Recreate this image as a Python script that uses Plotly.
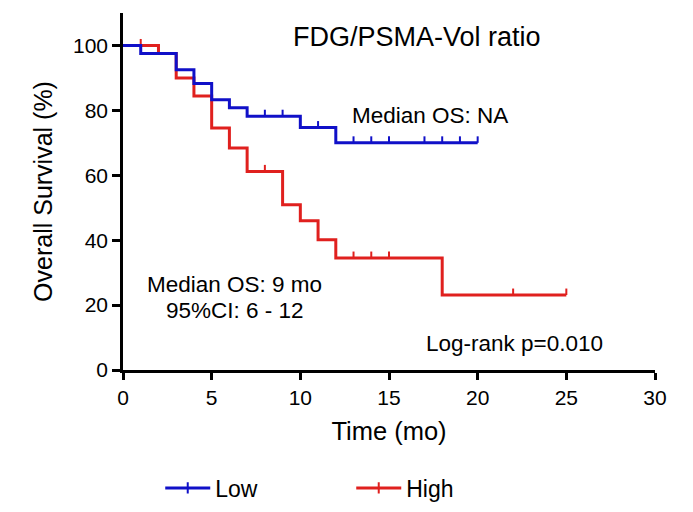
import plotly.graph_objects as go

# Low group (blue)
low_t = [0, 1, 3, 4, 5, 6, 7, 10, 12, 20]
low_s = [100, 97.5, 92.5, 88.3, 83.3, 80.8, 78.2, 74.7, 70.0, 70.0]
low_cens_t = [8, 9, 11, 13, 14, 15, 17, 18, 19, 20]
low_cens_s = [78.2, 78.2, 74.7, 70.0, 70.0, 70.0, 70.0, 70.0, 70.0, 70.0]

# High group (red)
high_t = [0, 2, 3, 4, 5, 6, 7, 9, 10, 11, 12, 18, 25]
high_s = [100, 97.5, 90.0, 84.4, 74.6, 68.4, 61.2, 50.9, 46.0, 40.1, 34.5, 23.1, 23.1]
high_cens_t = [1, 8, 13, 14, 15, 22, 25]
high_cens_s = [100, 61.2, 34.5, 34.5, 34.5, 23.1, 23.1]

BLUE = "#1010C8"
RED = "#E0201E"
FONT = "Liberation Sans, Arial, sans-serif"

fig = go.Figure()

def add_group(t, s, ct, cs, color):
    fig.add_trace(go.Scatter(x=t, y=s, mode="lines", line=dict(color=color, width=3, shape="hv"),
                             showlegend=False, hoverinfo="skip"))
    fig.add_trace(go.Scatter(x=ct, y=cs, mode="markers", marker=dict(size=0.1, color=color, opacity=0),
                             error_y=dict(type="data", symmetric=False, array=[2.0] * len(ct),
                                          arrayminus=[0] * len(ct), color=color, thickness=2, width=0),
                             showlegend=False, hoverinfo="skip"))

add_group(high_t, high_s, high_cens_t, high_cens_s, RED)
add_group(low_t, low_s, low_cens_t, low_cens_s, BLUE)

for name, color in [("Low", BLUE), ("High", RED)]:
    fig.add_trace(go.Scatter(x=[None], y=[None], mode="lines+markers", name=name,
                             line=dict(color=color, width=3),
                             marker=dict(symbol="line-ns", size=8, color=color,
                                         line=dict(color=color, width=2))))

def ann(x, y, text, size):
    fig.add_annotation(x=x, y=y, text=text, showarrow=False,
                       font=dict(size=size, family=FONT, color="black"),
                       xanchor="center", yanchor="middle")

ann(16.6, 102.5, "FDG/PSMA-Vol ratio", 27)
ann(17.3, 78.4, "Median OS: NA", 22.5)
ann(6.26, 26.2, "Median OS: 9 mo", 22.5)
ann(6.29, 18.2, "95%CI: 6 - 12", 22.5)
ann(22.05, 8.3, "Log-rank p=0.010", 22.5)

fig.update_layout(
    width=693, height=512,
    margin=dict(l=123, r=38, t=13, b=142, autoexpand=False),
    paper_bgcolor="white", plot_bgcolor="white",
    font=dict(family=FONT, color="black", size=21),
    xaxis=dict(range=[0, 30], tickvals=[0, 5, 10, 15, 20, 25, 30], showline=True, linecolor="black",
               linewidth=2.5, ticks="outside", ticklen=7, tickwidth=2.5, tickcolor="black",
               showgrid=False, zeroline=False, tickfont=dict(size=21),
               title=dict(text="Time (mo)", font=dict(size=25.5), standoff=15)),
    yaxis=dict(range=[0, 110], tickvals=[0, 20, 40, 60, 80, 100], showline=True, linecolor="black",
               linewidth=2.5, ticks="outside", ticklen=8, tickwidth=2.5, tickcolor="black",
               showgrid=False, zeroline=False, tickfont=dict(size=21),
               title=dict(text="Overall Survival (%)", font=dict(size=25), standoff=14)),
    legend=dict(orientation="h", x=0.07, y=1 - 488 / 512, xanchor="left", yanchor="middle",
                yref="container", font=dict(size=23), itemwidth=45,
                entrywidth=131, entrywidthmode="pixels"),
)

fig.write_html("out.html")
